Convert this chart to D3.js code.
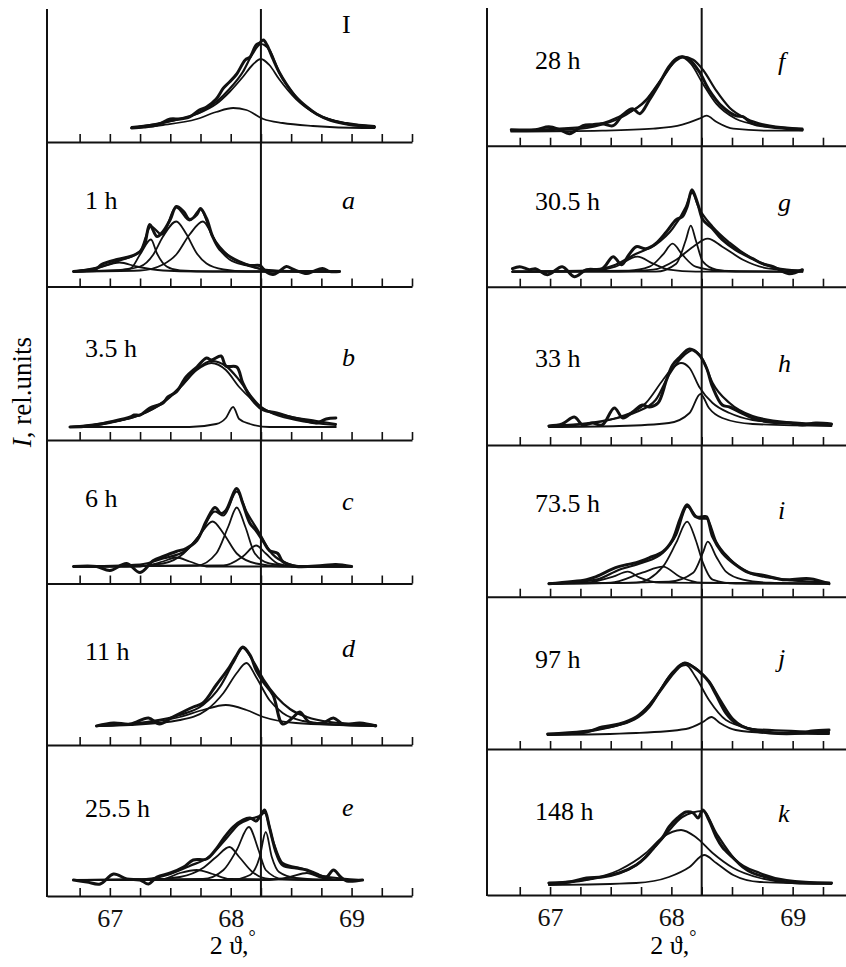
<!DOCTYPE html>
<html>
<head>
<meta charset="utf-8">
<script src="https://cdn.jsdelivr.net/npm/d3@7"></script>
<style>
  body { margin: 0; background: #fff; }
  svg { display: block; }
  .axis path, .axis line { stroke: #111; }
  .axis text { fill: #111; }
</style>
</head>
<body>
<div id="chart"></div>
<script>
// 2-theta range and tick values
const xDomain = [66.48, 69.5];
const minorTicks = [66.75, 67, 67.25, 67.5, 67.75, 68, 68.25, 68.5, 68.75, 69, 69.25, 69.5];
const labelTicks = [67, 68, 69];
const refLine = 68.25;

// panel captions
const timesLeft = ['', '1 h', '3.5 h', '6 h', '11 h', '25.5 h'];
const lettersLeft = ['I', 'a', 'b', 'c', 'd', 'e'];
const timesRight = ['28 h', '30.5 h', '33 h', '73.5 h', '97 h', '148 h'];
const lettersRight = ['f', 'g', 'h', 'i', 'j', 'k'];

// ---- measured profiles, fitted sums and components [2theta, intensity] ----
const measI = [[67.18,14],[67.28,15],[67.39,17],[67.50,23],[67.58,23],[67.66,25],[67.74,32],[67.80,35],[67.88,43],[67.94,54],[67.99,60],[68.05,68],[68.12,82],[68.16,85],[68.21,97],[68.24,99],[68.27,102],[68.30,97],[68.35,83],[68.40,70],[68.46,58],[68.54,45],[68.63,35],[68.71,28],[68.82,22],[68.96,18],[69.09,16],[69.19,15]];
const sumI = [[67.18,14],[67.50,21],[67.75,30],[67.88,40],[67.99,53],[68.10,70],[68.18,88],[68.25,98],[68.32,92],[68.40,70],[68.54,45],[68.71,28],[68.96,18],[69.19,15]];
const peaksI = [
  [[67.18,15],[67.44,19],[67.72,28],[67.88,38],[67.99,50],[68.10,65],[68.18,77],[68.25,83],[68.32,77],[68.40,63],[68.54,43],[68.71,28],[68.96,19],[69.19,16]],
  [[67.18,14],[67.44,17],[67.72,23],[67.88,30],[68.02,34],[68.13,32],[68.27,23],[68.43,19],[68.68,16],[69.09,14],[69.19,14]]
];

const measA = [[66.70,15],[66.89,18],[66.93,22],[67.06,27],[67.17,30],[67.25,35],[67.29,43],[67.33,62],[67.39,50],[67.44,55],[67.50,67],[67.55,80],[67.61,75],[67.66,67],[67.72,72],[67.75,78],[67.80,68],[67.85,50],[67.91,37],[67.99,30],[68.07,25],[68.16,21],[68.24,21],[68.29,15],[68.35,12],[68.40,15],[68.46,20],[68.52,17],[68.63,13],[68.68,15],[68.76,18],[68.82,15],[68.90,15]];
const sumA = [[66.70,15],[66.93,20],[67.08,26],[67.25,35],[67.34,60],[67.43,52],[67.55,79],[67.66,66],[67.75,77],[67.85,50],[67.99,30],[68.16,21],[68.32,16],[68.90,15]];
const peaksA = [
  [[66.70,15],[66.89,18],[67.08,24],[67.22,20],[67.44,16],[67.72,15],[68.90,15]],
  [[66.70,15],[67.03,16],[67.17,18],[67.25,32],[67.34,47],[67.39,33],[67.47,20],[67.58,16],[67.85,15],[68.90,15]],
  [[66.70,15],[67.03,16],[67.25,20],[67.36,32],[67.44,50],[67.55,65],[67.63,53],[67.72,33],[67.80,23],[67.94,17],[68.13,15],[68.90,15]],
  [[66.70,15],[67.25,16],[67.44,22],[67.55,32],[67.66,52],[67.77,65],[67.84,53],[67.91,37],[67.99,27],[68.13,21],[68.27,17],[68.54,15],[68.90,15]]
];

const measB = [[66.67,13],[66.83,14],[67.00,18],[67.17,23],[67.20,25],[67.25,25],[67.33,32],[67.44,37],[67.48,43],[67.55,48],[67.63,63],[67.72,73],[67.80,82],[67.84,80],[67.92,84],[67.96,74],[68.05,73],[68.10,57],[68.18,40],[68.27,30],[68.38,27],[68.49,23],[68.60,20],[68.71,17],[68.79,21],[68.87,22]];
const sumB = [[66.67,13],[67.00,18],[67.25,25],[67.44,38],[67.58,53],[67.72,71],[67.84,79],[67.96,74],[68.07,60],[68.18,42],[68.27,31],[68.43,25],[68.71,19],[68.87,16]];
const peaksB = [
  [[66.67,13],[67.00,17],[67.25,25],[67.44,37],[67.58,52],[67.72,70],[67.84,77],[67.96,70],[68.07,53],[68.18,40],[68.32,28],[68.54,20],[68.87,15]],
  [[66.67,13],[67.66,13],[67.88,16],[67.96,22],[68.02,33],[68.07,21],[68.16,16],[68.32,13],[68.87,13]]
];

const measC = [[66.70,17],[66.89,17],[67.00,13],[67.14,20],[67.25,11],[67.36,23],[67.44,27],[67.55,32],[67.63,35],[67.72,43],[67.80,63],[67.87,76],[67.92,70],[67.96,73],[68.05,95],[68.10,80],[68.16,60],[68.21,53],[68.27,42],[68.32,33],[68.39,30],[68.43,22],[68.54,17],[68.76,18],[68.87,19],[69.00,17]];
const sumC = [[66.70,17],[67.25,19],[67.44,25],[67.63,33],[67.74,48],[67.87,72],[67.94,68],[68.05,92],[68.13,72],[68.24,50],[68.32,33],[68.43,22],[68.60,17],[69.00,17]];
const peaksC = [
  [[66.70,17],[67.25,17],[67.44,22],[67.55,26],[67.66,22],[67.80,17],[69.00,17]],
  [[66.70,17],[67.14,17],[67.44,20],[67.61,30],[67.74,48],[67.85,62],[67.94,50],[68.05,30],[68.21,20],[68.43,17],[69.00,17]],
  [[66.70,17],[67.72,18],[67.88,30],[67.98,57],[68.05,76],[68.12,57],[68.20,30],[68.32,20],[68.54,17],[69.00,17]],
  [[66.70,17],[67.94,18],[68.10,27],[68.21,38],[68.29,30],[68.39,20],[68.54,17],[69.00,17]]
];

const measD = [[66.89,19],[67.03,22],[67.17,21],[67.32,27],[67.41,21],[67.52,28],[67.69,38],[67.77,42],[67.88,60],[67.99,78],[68.05,90],[68.10,98],[68.16,90],[68.21,75],[68.27,63],[68.35,50],[68.43,21],[68.52,28],[68.57,33],[68.65,23],[68.76,22],[68.85,27],[68.93,21],[69.07,22],[69.20,19]];
const sumD = [[66.89,19],[67.30,23],[67.58,30],[67.77,40],[67.91,58],[68.02,82],[68.10,97],[68.18,85],[68.27,66],[68.38,48],[68.49,36],[68.63,28],[68.82,23],[69.20,20]];
const peaksD = [
  [[66.89,19],[67.30,22],[67.58,28],[67.77,35],[67.96,40],[68.13,35],[68.27,28],[68.54,22],[69.20,19]],
  [[66.89,19],[67.17,20],[67.58,25],[67.80,35],[67.94,52],[68.05,72],[68.13,82],[68.21,68],[68.32,45],[68.43,32],[68.60,24],[68.82,21],[69.20,19]]
];

const measE = [[66.70,16],[66.81,14],[66.92,12],[67.03,22],[67.14,17],[67.25,16],[67.32,12],[67.39,19],[67.50,23],[67.61,29],[67.69,36],[67.80,37],[67.88,47],[67.95,59],[68.02,69],[68.10,76],[68.16,78],[68.21,75],[68.24,79],[68.28,86],[68.32,69],[68.38,42],[68.43,31],[68.54,28],[68.63,26],[68.71,22],[68.79,19],[68.85,26],[68.91,19],[68.96,15],[69.09,16]];
const sumE = [[66.70,16],[67.30,17],[67.50,22],[67.66,30],[67.83,40],[67.96,57],[68.07,72],[68.16,77],[68.24,80],[68.28,83],[68.35,55],[68.43,33],[68.60,27],[68.76,20],[69.09,16]];
const peaksE = [
  [[66.70,16],[67.17,16],[67.44,17],[67.58,23],[67.72,26],[67.85,22],[67.99,17],[69.09,16]],
  [[66.70,16],[67.30,16],[67.58,19],[67.77,28],[67.88,39],[67.99,49],[68.07,39],[68.18,24],[68.32,17],[69.09,16]],
  [[66.70,16],[67.77,17],[67.94,26],[68.05,46],[68.15,69],[68.23,46],[68.29,26],[68.43,17],[68.68,16],[69.09,16]],
  [[66.70,16],[67.99,16],[68.16,21],[68.24,39],[68.29,64],[68.34,39],[68.40,24],[68.54,18],[68.82,16],[69.09,16]],
  [[66.70,16],[68.32,16],[68.49,19],[68.63,23],[68.76,18],[68.96,16],[69.09,16]]
];

const measF = [[66.68,16],[66.88,16],[66.99,19],[67.08,16],[67.16,12],[67.27,20],[67.35,21],[67.43,22],[67.52,20],[67.60,31],[67.68,37],[67.74,32],[67.82,46],[67.90,62],[67.98,79],[68.04,87],[68.09,89],[68.15,86],[68.23,74],[68.31,56],[68.42,39],[68.53,30],[68.59,29],[68.67,22],[68.81,19],[69.08,16]];
const sumF = [[66.68,15],[67.30,19],[67.57,29],[67.79,45],[67.93,68],[68.04,86],[68.09,89],[68.18,86],[68.26,76],[68.37,55],[68.48,38],[68.62,27],[68.81,20],[69.08,17]];
const peaksF = [
  [[66.68,15],[67.16,16],[67.43,21],[67.63,31],[67.79,46],[67.93,69],[68.04,85],[68.09,88],[68.16,82],[68.26,62],[68.37,42],[68.53,27],[68.75,20],[69.08,16]],
  [[66.68,14],[67.43,15],[67.85,17],[68.09,21],[68.23,27],[68.29,30],[68.37,24],[68.51,17],[68.81,15],[69.08,15]]
];

const measG = [[66.69,18],[66.75,20],[66.83,17],[66.88,18],[66.98,12],[67.10,20],[67.20,10],[67.30,17],[67.43,18],[67.52,30],[67.59,22],[67.65,32],[67.71,40],[67.79,38],[67.87,43],[67.96,55],[68.04,67],[68.09,70],[68.13,80],[68.17,97],[68.22,82],[68.26,67],[68.34,58],[68.42,47],[68.53,37],[68.67,28],[68.75,23],[68.84,20],[68.97,13],[69.08,17]];
const sumG = [[66.69,15],[67.30,16],[67.54,22],[67.71,33],[67.87,42],[68.01,58],[68.12,80],[68.17,94],[68.23,78],[68.34,60],[68.48,44],[68.67,28],[68.86,19],[69.08,16]];
const peaksG = [
  [[66.69,15],[67.16,15],[67.38,16],[67.54,20],[67.72,30],[67.85,23],[67.98,17],[68.20,15],[69.08,15]],
  [[66.69,15],[67.65,16],[67.82,20],[67.93,32],[68.01,43],[68.09,32],[68.20,20],[68.40,16],[69.08,15]],
  [[66.69,15],[67.87,15],[68.04,23],[68.12,47],[68.16,61],[68.20,47],[68.26,25],[68.37,17],[68.53,15],[69.08,15]],
  [[66.69,15],[67.57,15],[67.85,17],[68.04,27],[68.18,40],[68.30,48],[68.42,40],[68.59,27],[68.81,18],[69.08,16]]
];

const measH = [[66.99,19],[67.10,21],[67.20,28],[67.27,20],[67.35,22],[67.43,20],[67.53,37],[67.60,27],[67.68,33],[67.76,40],[67.82,38],[67.89,42],[67.96,65],[68.01,80],[68.07,88],[68.15,96],[68.23,90],[68.29,77],[68.34,58],[68.42,40],[68.48,38],[68.56,33],[68.67,27],[68.81,23],[68.97,22],[69.08,20],[69.19,22],[69.32,21]];
const sumH = [[66.99,19],[67.43,24],[67.71,33],[67.87,45],[67.98,70],[68.09,88],[68.18,95],[68.26,85],[68.34,62],[68.48,42],[68.67,29],[68.95,23],[69.32,21]];
const peaksH = [
  [[66.99,19],[67.30,21],[67.57,28],[67.79,42],[67.93,65],[68.01,77],[68.08,82],[68.15,77],[68.23,58],[68.34,42],[68.48,32],[68.67,25],[68.95,22],[69.32,20]],
  [[66.99,18],[67.57,19],[67.98,22],[68.15,32],[68.24,51],[68.31,37],[68.42,27],[68.67,21],[69.32,19]]
];

const measIi = [[66.99,13],[67.30,17],[67.38,20],[67.54,29],[67.63,32],[67.71,34],[67.82,39],[67.93,45],[68.01,57],[68.07,77],[68.13,92],[68.20,80],[68.26,80],[68.29,80],[68.34,60],[68.42,44],[68.53,32],[68.64,24],[68.73,22],[68.81,20],[68.92,17],[69.14,18],[69.30,13]];
const sumIi = [[66.99,13],[67.38,17],[67.57,27],[67.76,34],[67.93,44],[68.04,62],[68.13,90],[68.23,78],[68.29,78],[68.37,55],[68.48,38],[68.64,24],[68.81,19],[69.30,14]];
const peaksIi = [
  [[66.99,13],[67.30,14],[67.52,20],[67.64,25],[67.74,19],[67.90,14],[69.30,13]],
  [[66.99,13],[67.50,14],[67.76,24],[67.93,30],[68.07,20],[68.25,14],[69.30,13]],
  [[66.99,13],[67.71,14],[67.93,30],[68.04,54],[68.13,75],[68.20,57],[68.26,34],[68.34,17],[68.53,13],[69.30,13]],
  [[66.99,13],[67.98,15],[68.18,24],[68.26,44],[68.30,55],[68.37,40],[68.45,25],[68.59,17],[68.81,14],[69.30,13]]
];

const measJ = [[66.98,15],[67.30,17],[67.43,22],[67.57,25],[67.71,32],[67.82,44],[67.93,62],[68.04,79],[68.11,86],[68.18,82],[68.26,74],[68.31,67],[68.37,54],[68.45,36],[68.53,26],[68.67,19],[68.81,16],[69.08,16],[69.16,18],[69.30,19]];
const sumJ = [[66.98,15],[67.57,24],[67.82,42],[67.98,72],[68.11,86],[68.23,78],[68.31,68],[68.40,50],[68.51,30],[68.67,20],[69.30,17]];
const peaksJ = [
  [[66.98,14],[67.43,20],[67.71,31],[67.87,52],[68.01,77],[68.12,84],[68.20,72],[68.31,49],[68.45,29],[68.67,20],[68.95,16],[69.30,16]],
  [[66.98,14],[67.71,16],[68.12,20],[68.26,27],[68.33,32],[68.40,26],[68.53,19],[68.81,16],[69.30,15]]
];

const measK = [[66.99,12],[67.16,13],[67.30,17],[67.43,18],[67.57,22],[67.71,30],[67.79,38],[67.86,48],[67.93,58],[67.98,68],[68.05,77],[68.12,83],[68.18,82],[68.22,77],[68.26,85],[68.31,75],[68.37,58],[68.42,48],[68.51,37],[68.59,28],[68.67,22],[68.81,17],[68.95,13],[69.08,12],[69.32,12]];
const sumK = [[66.99,12],[67.43,18],[67.71,30],[67.93,57],[68.09,78],[68.26,84],[68.37,62],[68.53,35],[68.73,22],[68.95,15],[69.32,12]];
const peaksK = [
  [[66.99,11],[67.30,15],[67.57,25],[67.79,42],[67.93,58],[68.08,65],[68.20,58],[68.34,42],[68.51,27],[68.73,17],[68.95,13],[69.32,12]],
  [[66.99,10],[67.71,12],[67.98,18],[68.15,28],[68.27,40],[68.37,32],[68.51,20],[68.73,13],[69.32,11]]
];

// ---- layout ----
const W = 846, H = 967;
const FONT = '"Liberation Serif", "Times New Roman", serif';
const FS = 26;

const columns = [
  {
    x0: 47, x1: 412, top: 9,
    seps: [142, 286.5, 440, 583.5, 745, 896],
    meas: [measI, measA, measB, measC, measD, measE],
    sums: [sumI, sumA, sumB, sumC, sumD, sumE],
    peaks: [peaksI, peaksA, peaksB, peaksC, peaksD, peaksE],
    times: timesLeft, letters: lettersLeft,
    timeX: 85, letterX: 342,
    timeY: [0, 209, 357, 507, 660, 817],
    letterY: [33, 209, 366, 510, 657, 816]
  },
  {
    x0: 487, x1: 853.3, top: 8,
    seps: [145.7, 286.7, 445, 596.7, 749, 895],
    meas: [measF, measG, measH, measIi, measJ, measK],
    sums: [sumF, sumG, sumH, sumIi, sumJ, sumK],
    peaks: [peaksF, peaksG, peaksH, peaksIi, peaksJ, peaksK],
    times: timesRight, letters: lettersRight,
    timeX: 535, letterX: 778,
    timeY: [69, 210, 367, 512, 668, 820],
    letterY: [70, 211, 372, 519, 667, 822]
  }
];

const svg = d3.select('#chart').append('svg')
  .attr('width', W)
  .attr('height', H)
  .style('font-family', FONT);

svg.append('rect').attr('width', W).attr('height', H).attr('fill', '#fff');

columns.forEach(col => {
  let x = d3.scaleLinear().domain(xDomain).range([col.x0, col.x1]);
  let g = svg.append('g');
  let bottom = col.seps[col.seps.length - 1];

  // left frame line
  g.append('line')
    .attr('x1', col.x0).attr('x2', col.x0)
    .attr('y1', col.top).attr('y2', bottom + 1)
    .attr('stroke', '#111').attr('stroke-width', 2);

  // reference line through all panels
  g.append('line')
    .attr('x1', x(refLine)).attr('x2', x(refLine))
    .attr('y1', col.top).attr('y2', bottom + 1)
    .attr('stroke', '#111').attr('stroke-width', 2);

  col.seps.forEach((sep, i) => {
    // separator with ticks pointing up
    let axis = d3.axisTop(x)
      .tickValues(minorTicks)
      .tickSize(8)
      .tickSizeOuter(0)
      .tickFormat('');
    let ga = g.append('g')
      .attr('class', 'axis')
      .attr('transform', 'translate(0,' + sep + ')')
      .call(axis);
    ga.select('.domain').attr('stroke-width', 2);
    ga.selectAll('.tick line').attr('stroke-width', 1.6);

    let y = d3.scaleLinear().domain([0, 100]).range([sep, sep - 100]);
    let smooth = d3.line()
      .x(d => x(d[0]))
      .y(d => y(d[1]))
      .curve(d3.curveMonotoneX);
    let noisy = d3.line()
      .x(d => x(d[0]))
      .y(d => y(d[1]))
      .curve(d3.curveCatmullRom.alpha(0.5));

    let pg = g.append('g').attr('fill', 'none').attr('stroke', '#111')
      .attr('stroke-linejoin', 'round').attr('stroke-linecap', 'round');

    col.peaks[i].forEach(p => {
      pg.append('path').attr('d', smooth(p)).attr('stroke-width', 1.8);
    });
    pg.append('path').attr('d', smooth(col.sums[i])).attr('stroke-width', 2.2);
    pg.append('path').attr('d', noisy(col.meas[i])).attr('stroke-width', 3);

    // captions
    if (col.times[i]) {
      g.append('text')
        .attr('x', col.timeX).attr('y', col.timeY[i])
        .attr('font-size', FS)
        .text(col.times[i]);
    }
    g.append('text')
      .attr('x', col.letterX).attr('y', col.letterY[i])
      .attr('font-size', FS)
      .attr('font-style', col.letters[i] === 'I' ? 'normal' : 'italic')
      .text(col.letters[i]);
  });

  // bottom tick labels
  let labelAxis = d3.axisBottom(x)
    .tickValues(labelTicks)
    .tickSize(0)
    .tickPadding(13)
    .tickFormat(d3.format('d'));
  let gl = g.append('g')
    .attr('class', 'axis')
    .attr('transform', 'translate(0,' + bottom + ')')
    .call(labelAxis);
  gl.select('.domain').remove();
  gl.selectAll('text').attr('font-size', FS).attr('font-family', FONT);

  // x title
  let xt = g.append('text')
    .attr('x', x(68) + 2).attr('y', 954)
    .attr('text-anchor', 'middle')
    .attr('font-size', FS);
  xt.append('tspan').text('2 \u03D1,');
  xt.append('tspan').attr('dy', -11).attr('font-size', 18).text('\u00B0');
});

// y title
let yt = svg.append('text')
  .attr('transform', 'translate(31,392) rotate(-90)')
  .attr('text-anchor', 'middle')
  .attr('font-size', 27);
yt.append('tspan').attr('font-style', 'italic').text('I');
yt.append('tspan').text(', rel.units');
</script>
</body>
</html>
